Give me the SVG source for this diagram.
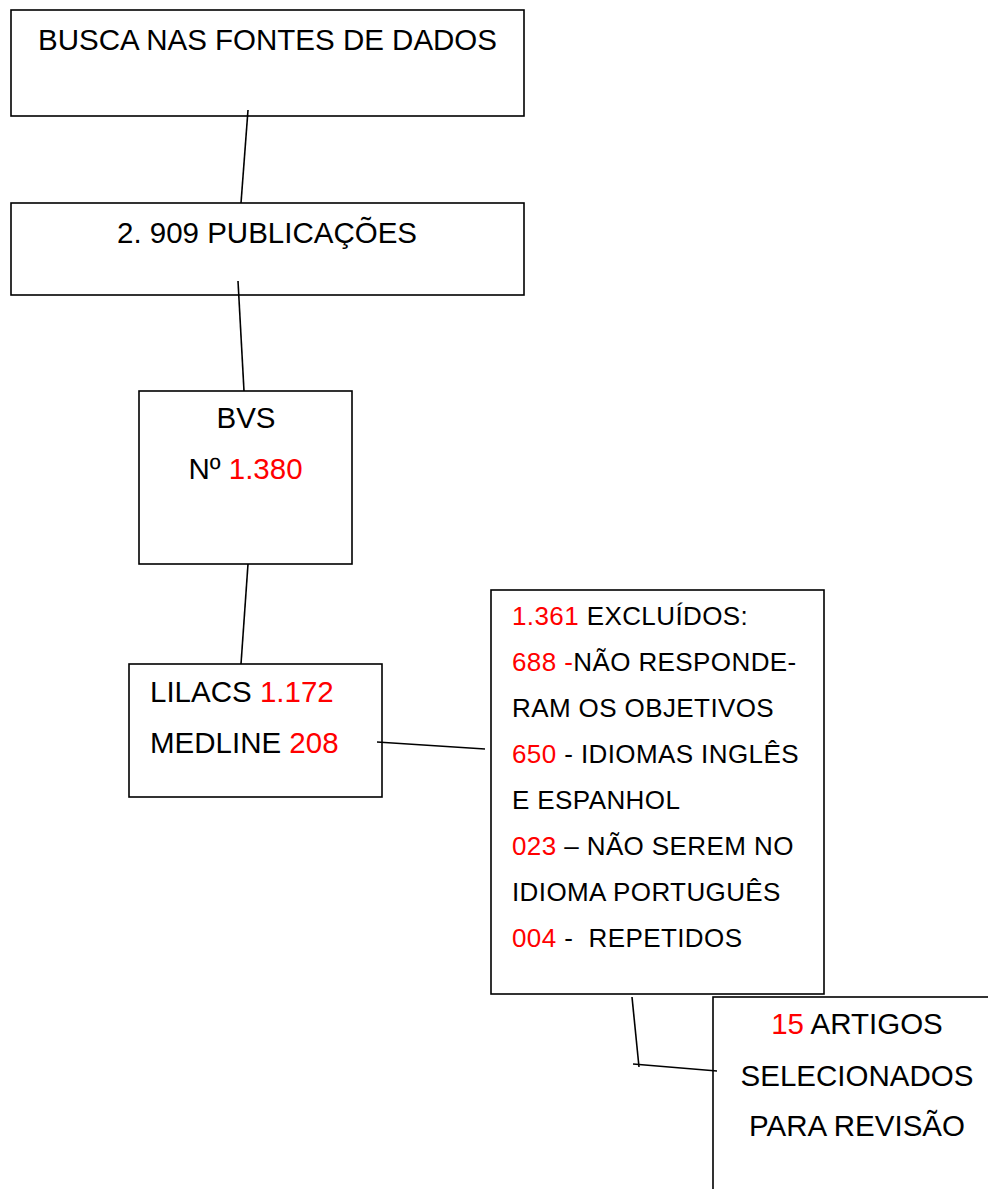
<svg xmlns="http://www.w3.org/2000/svg" width="988" height="1189" viewBox="0 0 988 1189">
<style>
.box{fill:#fff;stroke:#000;stroke-width:1.6}
.con{stroke:#000;stroke-width:1.6;fill:none}
.t{font-family:"Liberation Sans",Arial,sans-serif;font-size:29.5px;fill:#000}
.s{font-family:"Liberation Sans",Arial,sans-serif;font-size:26px;fill:#000;letter-spacing:0.4px}
.r{fill:#ff0000}
</style>
<rect width="988" height="1189" fill="#fff"/>
<g id="n1"><rect class="box" x="11" y="10" width="513" height="106"/><text class="t" x="267.5" y="50" text-anchor="middle">BUSCA NAS FONTES DE DADOS</text></g>
<g id="n2"><rect class="box" x="11" y="203" width="513" height="92"/><text class="t" x="267" y="243" text-anchor="middle">2. 909 PUBLICAÇÕES</text></g>
<g id="n3"><rect class="box" x="139" y="391" width="213" height="173"/><text class="t" x="246" y="428" text-anchor="middle">BVS</text><text class="t" x="245.5" y="479" text-anchor="middle">Nº <tspan class="r">1.380</tspan></text></g>
<g id="n4"><rect class="box" x="129" y="664" width="253" height="133"/><text class="t" x="150" y="702">LILACS <tspan class="r">1.172</tspan></text><text class="t" x="150" y="753">MEDLINE <tspan class="r">208</tspan></text></g>
<g id="n5"><rect class="box" x="491" y="590" width="333" height="404"/>
<text class="s" x="512" y="624.5"><tspan class="r">1.361</tspan> EXCLUÍDOS:</text>
<text class="s" x="512" y="670.5"><tspan class="r">688 -</tspan>NÃO RESPONDE-</text>
<text class="s" x="512" y="716.5">RAM OS OBJETIVOS</text>
<text class="s" x="512" y="762.5"><tspan class="r">650</tspan> - IDIOMAS INGLÊS</text>
<text class="s" x="512" y="808.5">E ESPANHOL</text>
<text class="s" x="512" y="854.5"><tspan class="r">023</tspan> – NÃO SEREM NO</text>
<text class="s" x="512" y="900.5">IDIOMA PORTUGUÊS</text>
<text class="s" x="512" y="946.5" xml:space="preserve"><tspan class="r">004</tspan> -  REPETIDOS</text>
</g>
<g id="n6"><rect class="box" x="713" y="997" width="300" height="220"/>
<text class="t" x="857" y="1034"><tspan text-anchor="middle"><tspan class="r">15</tspan> ARTIGOS</tspan></text>
<text class="t" x="857" y="1086" text-anchor="middle">SELECIONADOS</text>
<text class="t" x="857" y="1136" text-anchor="middle">PARA REVISÃO</text>
</g>
<g id="connectors">
<line class="con" x1="248" y1="110" x2="241" y2="203"/>
<line class="con" x1="238" y1="281" x2="244" y2="391"/>
<line class="con" x1="248" y1="564" x2="241" y2="664"/>
<line class="con" x1="377" y1="742" x2="485" y2="749"/>
<line class="con" x1="632" y1="997" x2="639" y2="1067"/>
<line class="con" x1="633" y1="1064" x2="717" y2="1071"/>
</g>
</svg>
